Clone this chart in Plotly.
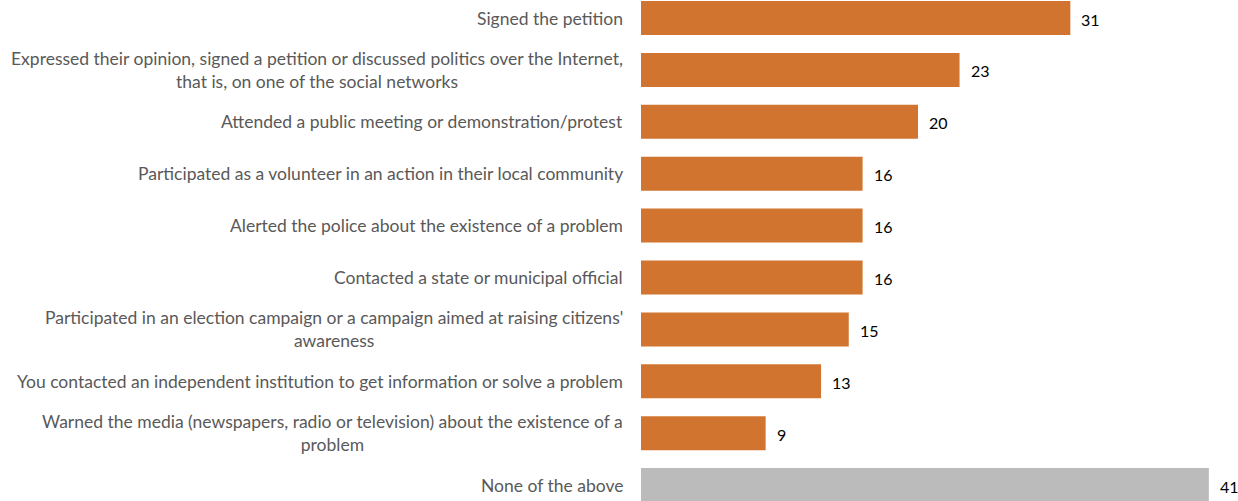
import plotly.graph_objects as go

categories = [
    "Signed the petition",
    "Expressed their opinion, signed a petition or discussed politics over the Internet,<br>that is, on one of the social networks",
    "Attended a public meeting or demonstration/protest",
    "Participated as a volunteer in an action in their local community",
    "Alerted the police about the existence of a problem",
    "Contacted a state or municipal official",
    "Participated in an election campaign or a campaign aimed at raising citizens'<br>awareness",
    "You contacted an independent institution to get information or solve a problem",
    "Warned the media (newspapers, radio or television) about the existence of a<br>problem",
    "None of the above",
]
values = [31, 23, 20, 16, 16, 16, 15, 13, 9, 41]

ORANGE = "#D1742F"
GRAY = "#BBBBBB"
colors = [ORANGE] * 9 + [GRAY]

ids = list(range(len(categories)))

fig = go.Figure()
fig.add_trace(go.Bar(
    y=ids,
    x=values,
    orientation="h",
    marker=dict(color=colors, line=dict(width=0)),
    width=0.655,
    hoverinfo="skip",
))

# category labels, right aligned against the bars, lines centred in each block
for i, cat in enumerate(categories):
    fig.add_annotation(
        x=0, y=i, xref="x", yref="y",
        text=cat, showarrow=False,
        xanchor="right", yanchor="middle", align="center",
        xshift=-16,
        font=dict(family="Lato", size=17.5, color="#595959"),
    )

# value labels to the right of each bar
for i, v in enumerate(values):
    fig.add_annotation(
        x=v, y=i, xref="x", yref="y",
        text=str(v), showarrow=False,
        xanchor="left", yanchor="middle",
        xshift=9, yshift=-1,
        font=dict(family="Lato", size=16, color="#000000"),
    )

fig.update_layout(
    width=1238, height=501,
    margin=dict(l=641, r=0, t=0, b=0),
    paper_bgcolor="white", plot_bgcolor="white",
    showlegend=False,
    xaxis=dict(range=[0, 597 / 13.85], visible=False, fixedrange=True),
    yaxis=dict(range=[9.306, -0.347], visible=False, fixedrange=True),
)

fig.write_html("out.html")
